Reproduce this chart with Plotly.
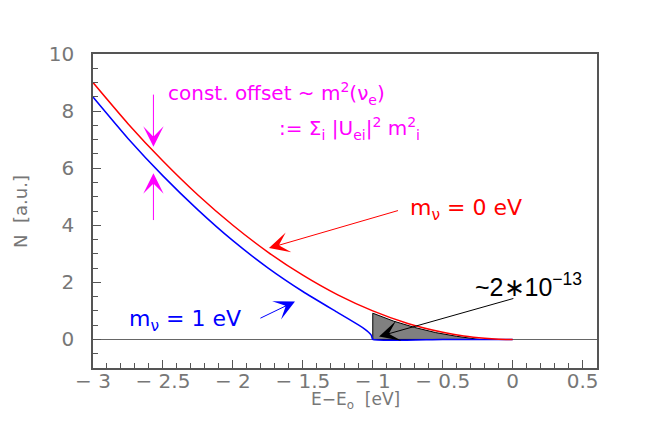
import plotly.graph_objects as go

# spectrum near the endpoint
red_x = [-3.0, -2.75, -2.5, -2.25, -2.0, -1.75, -1.5, -1.25, -1.0, -0.75, -0.5, -0.35, -0.2, -0.1, 0.0]
red_y = [9.0, 7.56, 6.25, 5.06, 4.0, 3.06, 2.25, 1.56, 1.0, 0.56, 0.25, 0.12, 0.04, 0.01, 0.0]

blue_x = [-3.0, -2.75, -2.5, -2.25, -2.0, -1.75, -1.5, -1.25, -1.1, -1.06, -1.03, -1.01, -1.0, -0.5, 0.0]
blue_y = [8.49, 7.04, 5.73, 4.54, 3.46, 2.51, 1.68, 0.94, 0.50, 0.37, 0.25, 0.14, 0.0, 0.0, 0.0]

gray_x = [-1.0, -1.0, -0.85, -0.7, -0.55, -0.4, -0.24, -1.0]
gray_y = [0.0, 0.92, 0.64, 0.42, 0.24, 0.11, 0.0, 0.0]

x_ticks = [-3, -2.5, -2, -1.5, -1, -0.5, 0, 0.5]
x_ticktext = ["\u2212 3", "\u2212 2.5", "\u2212 2", "\u2212 1.5", "\u2212 1", "\u2212 0.5", "0", "0.5"]
y_ticks = [0, 2, 4, 6, 8, 10]

AXIS = "#555555"
TICKCOL = "#777777"
MAG = "#ff00ff"
WIDE = "DejaVu Sans, Liberation Sans, sans-serif"

fig = go.Figure()
fig.add_trace(go.Scatter(
    x=gray_x, y=gray_y, mode="lines", fill="toself",
    fillcolor="#808080", line=dict(color="black", width=1),
))
fig.add_trace(go.Scatter(
    x=blue_x, y=blue_y, mode="lines",
    line=dict(color="#0000ff", width=1.5, shape="spline", smoothing=0.5),
))
fig.add_trace(go.Scatter(
    x=red_x, y=red_y, mode="lines",
    line=dict(color="#ff0000", width=1.5, shape="spline", smoothing=0.6),
))


def arrow(x, y, ax, ay, color, size=3.4):
    fig.add_annotation(
        x=x, y=y, ax=ax, ay=ay, xref="x", yref="y", axref="x", ayref="y",
        text="", showarrow=True, arrowhead=3, arrowsize=size,
        arrowwidth=1, arrowcolor=color,
    )


arrow(-2.568, 6.75, -2.568, 8.63, MAG)
arrow(-2.568, 5.82, -2.568, 4.13, MAG)
arrow(-1.742, 3.2, -0.809, 4.53, "#ff0000")
arrow(-1.556, 1.33, -1.814, 0.72, "#0000ff")
arrow(-0.955, 0.105, 0.016, 1.45, "black")


def label(x, y, text, size, color, family=WIDE):
    fig.add_annotation(x=x, y=y, xref="x", yref="y", xanchor="left", yanchor="middle",
                       text=text, showarrow=False,
                       font=dict(family=family, size=size, color=color))


label(-2.475, 8.63, "const. offset ~ m<sup>2</sup>(\u03bd<sub>e</sub>)", 20, MAG)
label(-1.683, 7.4, ":= \u03a3<sub>i</sub> |U<sub>ei</sub>|<sup>2</sup> m<sup>2</sup><sub>i</sub>", 20, MAG)
label(-0.75, 4.55, "m<sub>\u03bd</sub> = 0 eV", 22, "#ff0000")
label(-2.76, 0.65, "m<sub>\u03bd</sub> = 1 eV", 22, "#0000ff")
label(-0.285, 1.9, "~2\u221710<sup>\u221213</sup>", 25, "black", "Liberation Sans, Arial, sans-serif")

fig.add_annotation(x=0.52, y=-0.105, xref="paper", yref="paper",
                   xanchor="center", yanchor="middle",
                   text="E\u2212E<sub>o</sub>  [eV]", showarrow=False,
                   font=dict(family=WIDE, size=17, color=TICKCOL))
fig.add_annotation(x=-0.145, y=0.5, xref="paper", yref="paper",
                   xanchor="center", yanchor="middle",
                   text="N  [a.u.]", textangle=-90, showarrow=False,
                   font=dict(family=WIDE, size=18, color=TICKCOL))

# page body has an 8px margin, so the figure is a bit smaller than the window
fig.update_layout(
    width=648, height=405,
    margin=dict(l=85, r=59, t=46, b=45),
    paper_bgcolor="white", plot_bgcolor="white",
    showlegend=False,
    font=dict(family="Liberation Sans, Arial, sans-serif", color=AXIS),
)
fig.update_xaxes(
    range=[-3.0, 0.603], showgrid=False, zeroline=False,
    showline=True, mirror=True, linecolor=AXIS, linewidth=1.5,
    tickvals=x_ticks, ticktext=x_ticktext,
    ticks="inside", ticklen=8, tickcolor=AXIS, tickwidth=1,
    minor=dict(ticks="inside", dtick=0.1, ticklen=5, tickcolor=AXIS),
    tickfont=dict(family=WIDE, size=20, color=TICKCOL),
    ticklabelstandoff=-6,
)
fig.update_yaxes(
    range=[-1.0, 10.0], showgrid=False,
    zeroline=True, zerolinecolor="#666666", zerolinewidth=1,
    showline=True, mirror=True, linecolor=AXIS, linewidth=1.5,
    tickvals=y_ticks,
    ticks="inside", ticklen=8, tickcolor=AXIS, tickwidth=1,
    minor=dict(ticks="inside", dtick=0.5, ticklen=5, tickcolor=AXIS),
    tickfont=dict(family=WIDE, size=20, color=TICKCOL),
    ticklabelstandoff=13,
)

fig.write_html("out.html")
